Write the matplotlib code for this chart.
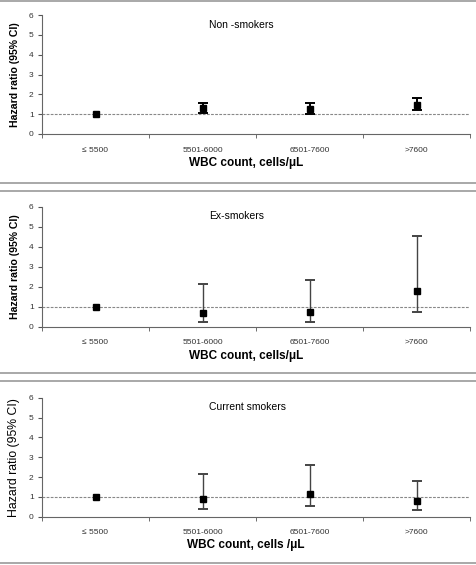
import numpy as np
import matplotlib
matplotlib.use("Agg")
import matplotlib.pyplot as plt
from matplotlib.lines import Line2D

plt.rcParams['font.family'] = ['Liberation Sans', 'DejaVu Sans']

# Data
categories = ['\u2264 5500', '5501-6000', '6501-7600', '>7600']
panel_titles = ['Non -smokers', 'Ex-smokers', 'Current smokers']
xlabels = ['WBC count, cells/\u03bcL', 'WBC count, cells/\u03bcL', 'WBC count, cells /\u03bcL']

hr_non = [1.0, 1.29, 1.26, 1.46]
lo_non = [np.nan, 1.04, 1.03, 1.21]
hi_non = [np.nan, 1.58, 1.58, 1.83]

hr_ex = [1.0, 0.67, 0.73, 1.80]
lo_ex = [np.nan, 0.25, 0.25, 0.75]
hi_ex = [np.nan, 2.12, 2.35, 4.53]

hr_cur = [1.0, 0.89, 1.14, 0.79]
lo_cur = [np.nan, 0.37, 0.54, 0.34]
hi_cur = [np.nan, 2.15, 2.60, 1.82]

W, H = 476, 565
fig = plt.figure(figsize=(W / 100, H / 100), dpi=100)

# axes positions in pixels (top, bottom)
panels = [(15, 134), (206.7, 326.7), (397.7, 516.7)]
data = [(hr_non, lo_non, hi_non), (hr_ex, lo_ex, hi_ex), (hr_cur, lo_cur, hi_cur)]
bar_lw = [1.4, 1.0, 1.0]
bar_col = ['black', '#444444', '#444444']

x = np.arange(1, len(categories) + 1)

for i, ((top, bot), (hr, lo, hi)) in enumerate(zip(panels, data)):
    ax = fig.add_axes([42 / W, (H - bot) / H, 428 / W, (bot - top) / H])
    hr = np.array(hr)
    lo = np.array(lo)
    hi = np.array(hi)

    ax.axhline(1, color='#888888', lw=0.8, ls=(0, (2.5, 1.2)), zorder=1)

    m = ~np.isnan(lo)
    eb = ax.errorbar(x[m], hr[m], yerr=[hr[m] - lo[m], hi[m] - hr[m]], fmt='none',
                     ecolor=bar_col[i], elinewidth=bar_lw[i], capsize=3.6, capthick=1.4, zorder=2)
    for c in eb[1]:
        c.set_color('black')
    ax.plot(x, hr, ls='none', marker='s', ms=4.6, color='black', zorder=3)

    ax.set_xlim(0.5, 4.5)
    ax.set_ylim(0, 6)
    ax.set_yticks(range(0, 7))
    ax.set_xticks(x)
    ax.set_xticklabels(categories, fontsize=6, color='#333333')
    ax.set_xticks(np.arange(0.5, 4.6, 1), minor=True)
    ax.tick_params(axis='x', which='major', length=0, pad=9)
    ax.tick_params(axis='x', which='minor', length=3, direction='out', color='#555555')
    ax.tick_params(axis='y', length=3, labelsize=6, labelcolor='#333333', color='#555555', pad=3)

    for s in ['top', 'right']:
        ax.spines[s].set_visible(False)
    for s in ['left', 'bottom']:
        ax.spines[s].set_color('#666666')
        ax.spines[s].set_linewidth(0.8)

    ax.text(0.39, 0.92, panel_titles[i], transform=ax.transAxes, fontsize=7.5,
            ha='left', va='center')

    ax.set_xlabel(xlabels[i], fontsize=8.5, fontweight='bold')
    ax.xaxis.set_label_coords(0.477, -0.19)
    if i < 2:
        ax.set_ylabel('Hazard ratio (95% CI)', fontsize=7.6, fontweight='bold')
    else:
        ax.set_ylabel('Hazard ratio (95% CI)', fontsize=8.8)
    ax.yaxis.set_label_coords(-22 / 428, 0.5)

# panel separator lines
for yp in [0.7, 182.7, 190.7, 373, 381, 563]:
    fig.add_artist(Line2D([0, 1], [(H - yp) / H] * 2, color='#9a9a9a', lw=1.2,
                          transform=fig.transFigure))

fig.savefig('out.png', dpi=100)
